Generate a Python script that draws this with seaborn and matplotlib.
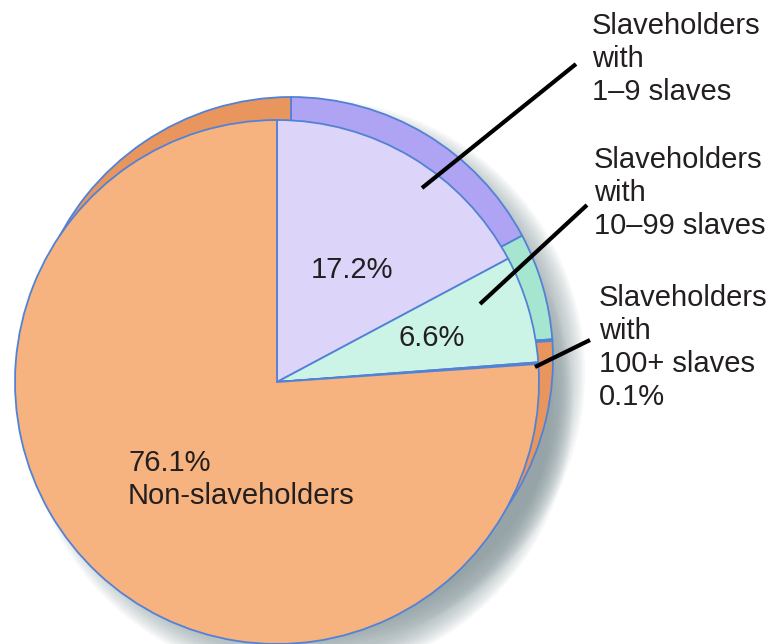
"""
Pie chart: share of white southern families by slaveholding, 1860.
Saves the figure to out.png
"""

import matplotlib
matplotlib.use("Agg")
import matplotlib.pyplot as plt
from matplotlib.patches import Circle
import seaborn as sns

# ── Data ──
groups = ["Slaveholders with 1–9 slaves", "Slaveholders with 10–99 slaves",
          "Slaveholders with 100+ slaves", "Non-slaveholders"]
shares = [17.2, 6.6, 0.1, 76.1]
pct_labels = ["17.2%", "6.6%", "0.1%", "76.1%"]

# ── Styling ──
front_colors = ["#DCD4F9", "#CCF4E6", "#F3EF78", "#F6B27F"]
back_colors = ["#AFA3F3", "#A6E6D0", "#E4DC5C", "#E8965E"]
edge = "#5282D6"
text_col = "#231F20"
W, H = 777, 644
R = 262
front_c = (277, H - 382)
back_c = (291, H - 359)

sns.set_theme(style="white")
plt.rcParams["font.family"] = ["Liberation Sans", "DejaVu Sans"]

fig = plt.figure(figsize=(W / 100, H / 100), dpi=100)
ax = fig.add_axes([0, 0, 1, 1])

# soft drop shadow towards the lower right (behind both faces)
for (cx, cy), (dx, dy), r0 in [(front_c, (22, -22), R - 10), (back_c, (20, -14), R - 10)]:
    for k in range(12):
        ax.add_patch(Circle((cx + dx, cy + dy), r0 + 2 * k,
                            facecolor="#7E9196", edgecolor="none", alpha=0.06, zorder=0))

# back face (gives the thickness of the disc)
ax.pie(shares, colors=back_colors, startangle=90, counterclock=False,
       center=back_c, radius=R, frame=True,
       wedgeprops=dict(edgecolor=edge, linewidth=1.3, zorder=1))

# front face
ax.pie(shares, colors=front_colors, startangle=90, counterclock=False,
       center=front_c, radius=R, frame=True,
       wedgeprops=dict(edgecolor=edge, linewidth=1.3, zorder=2))

ax.set_xlim(0, W)
ax.set_ylim(0, H)
ax.set_aspect("equal")
ax.axis("off")

fs = 21
ls = 1.22
# inside labels
ax.text(352, H - 270, pct_labels[0], fontsize=fs, color=text_col, ha="center", va="center", zorder=5)
ax.text(432, H - 338, pct_labels[1], fontsize=fs, color=text_col, ha="center", va="center", zorder=5)
ax.text(128, H - 449, pct_labels[3] + "\n" + groups[3], fontsize=fs, color=text_col,
        ha="left", va="top", linespacing=ls, zorder=5)

# outside labels with leader lines
outside = [
    ("Slaveholders\nwith\n1–9 slaves", (592, 12), (422, 188), (576, 64)),
    ("Slaveholders\nwith\n10–99 slaves", (594, 146), (480, 304), (587, 205)),
    ("Slaveholders\nwith\n100+ slaves\n" + pct_labels[2], (599, 284), (535, 367), (590, 340)),
]
for txt, (tx, ty), (x0, y0), (x1, y1) in outside:
    ax.text(tx, H - ty, txt, fontsize=fs, color=text_col, ha="left", va="top",
            linespacing=ls, zorder=5)
    ax.plot([x0, x1], [H - y0, H - y1], color="black", lw=3, solid_capstyle="butt", zorder=6)

plt.savefig("out.png", dpi=100, facecolor="white")
plt.close()
